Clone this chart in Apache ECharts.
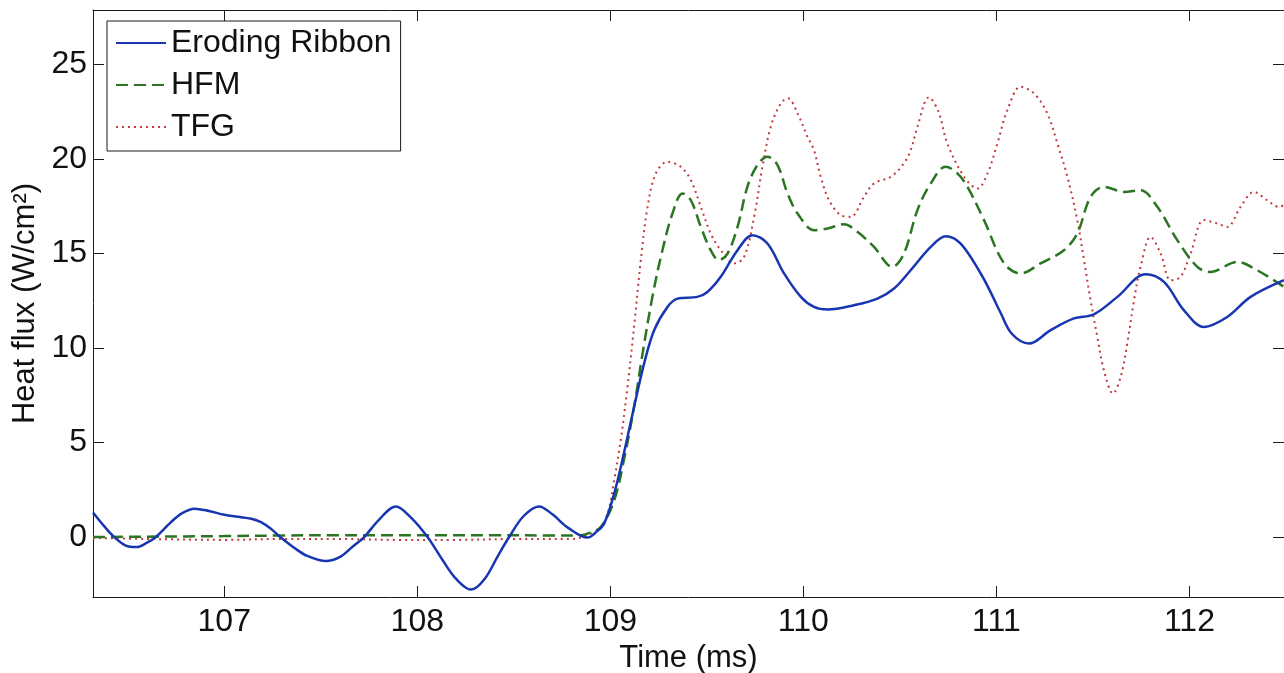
<!DOCTYPE html>
<html style="height: 100%">
<head>
	<meta charset="utf-8">
</head>
<body style="height: 100%; margin: 0; background: #fff">
<div id="container" style="width: 1284px; height: 673px"></div>
<script type="text/javascript" src="https://cdn.jsdelivr.net/npm/echarts@6/dist/echarts.min.js"></script>
<script type="text/javascript">
    // Eroding Ribbon (blue, solid)
    var ribbonTime = [106.32, 106.38, 106.43, 106.49, 106.543, 106.60, 106.646, 106.72, 106.78, 106.845, 106.92, 107.0, 107.07, 107.14, 107.19, 107.24, 107.29, 107.36, 107.43, 107.527, 107.60, 107.66, 107.725, 107.80, 107.889, 107.97, 108.053, 108.13, 108.20, 108.278, 108.35, 108.42, 108.476, 108.55, 108.631, 108.70, 108.78, 108.882, 108.93, 108.968, 109.02, 109.07, 109.123, 109.175, 109.227, 109.296, 109.348, 109.451, 109.503, 109.572, 109.659, 109.736, 109.814, 109.90, 109.987, 110.055, 110.125, 110.263, 110.384, 110.47, 110.556, 110.66, 110.737, 110.815, 110.918, 110.97, 111.02, 111.08, 111.169, 111.281, 111.402, 111.505, 111.627, 111.773, 111.868, 111.972, 112.075, 112.196, 112.317, 112.49];
    var ribbonFlux = [1.3, 0.55, 0.0, -0.45, -0.53, -0.3, 0.0, 0.75, 1.25, 1.5, 1.38, 1.18, 1.07, 0.97, 0.79, 0.45, 0.0, -0.55, -1.0, -1.27, -1.05, -0.55, 0.0, 0.9, 1.62, 1.0, 0.0, -1.2, -2.2, -2.78, -2.2, -0.95, 0.0, 1.1, 1.62, 1.2, 0.5, -0.03, 0.3, 0.71, 2.3, 4.41, 6.88, 9.17, 10.94, 12.17, 12.61, 12.7, 12.96, 13.76, 15.17, 15.96, 15.52, 13.94, 12.7, 12.17, 12.03, 12.26, 12.61, 13.14, 14.11, 15.34, 15.91, 15.52, 13.95, 12.95, 11.9, 10.75, 10.23, 10.94, 11.56, 11.78, 12.7, 13.9, 13.49, 11.99, 11.11, 11.64, 12.7, 13.58];

    // HFM (green, dashed)
    var hfmTime = [106.32, 106.6, 107.0, 107.3, 107.6, 108.0, 108.4, 108.7, 108.85, 108.882, 108.95, 109.02, 109.07, 109.123, 109.167, 109.218, 109.27, 109.322, 109.374, 109.417, 109.469, 109.52, 109.563, 109.607, 109.659, 109.71, 109.762, 109.814, 109.866, 109.918, 109.97, 110.055, 110.125, 110.211, 110.28, 110.366, 110.461, 110.521, 110.591, 110.66, 110.737, 110.798, 110.85, 110.936, 111.04, 111.126, 111.229, 111.35, 111.419, 111.488, 111.557, 111.661, 111.747, 111.834, 111.937, 112.041, 112.11, 112.248, 112.351, 112.49];
    var hfmFlux = [0.0, 0.02, 0.05, 0.08, 0.1, 0.1, 0.1, 0.08, 0.1, 0.18, 0.53, 1.94, 4.06, 6.88, 9.7, 12.7, 15.17, 17.11, 18.17, 17.81, 16.4, 15.17, 14.64, 14.99, 16.4, 18.52, 19.67, 20.11, 19.67, 18.17, 17.11, 16.23, 16.32, 16.54, 16.14, 15.34, 14.29, 14.99, 17.29, 18.7, 19.58, 19.23, 18.52, 16.76, 14.47, 13.94, 14.47, 15.17, 16.05, 17.99, 18.52, 18.25, 18.34, 17.46, 15.7, 14.29, 14.02, 14.55, 14.11, 13.23];

    // TFG (red, dotted)
    var tfgTime = [106.32, 106.6, 107.0, 107.3, 107.6, 107.9, 108.2, 108.5, 108.8, 108.882, 108.95, 108.99, 109.02, 109.054, 109.089, 109.123, 109.158, 109.193, 109.236, 109.296, 109.365, 109.417, 109.469, 109.52, 109.572, 109.641, 109.693, 109.745, 109.788, 109.831, 109.883, 109.92, 109.97, 110.02, 110.055, 110.09, 110.133, 110.194, 110.245, 110.314, 110.366, 110.453, 110.521, 110.556, 110.591, 110.65, 110.70, 110.746, 110.833, 110.902, 110.954, 111.005, 111.057, 111.126, 111.195, 111.264, 111.316, 111.368, 111.419, 111.454, 111.488, 111.523, 111.557, 111.604, 111.644, 111.678, 111.713, 111.747, 111.799, 111.851, 111.903, 111.954, 112.006, 112.075, 112.144, 112.196, 112.265, 112.334, 112.403, 112.463, 112.49];
    var tfgFlux = [-0.05, -0.1, -0.15, -0.1, -0.1, -0.15, -0.15, -0.1, -0.1, 0.1, 0.5, 1.4, 3.0, 5.12, 7.94, 11.11, 14.64, 17.46, 19.23, 19.84, 19.58, 18.87, 17.46, 16.05, 15.17, 14.47, 14.81, 16.93, 19.58, 21.69, 22.93, 23.2, 22.4, 21.2, 20.46, 19.05, 17.81, 17.02, 16.93, 17.99, 18.7, 19.05, 19.76, 20.46, 21.69, 23.25, 22.5, 20.81, 19.05, 18.43, 19.23, 20.81, 22.58, 23.81, 23.46, 22.4, 20.81, 19.05, 16.76, 14.64, 12.52, 10.58, 8.82, 7.59, 8.47, 10.23, 12.52, 14.29, 15.87, 14.99, 13.58, 13.76, 14.99, 16.76, 16.58, 16.4, 17.46, 18.25, 17.81, 17.46, 17.55];

    function pairs(xs, ys) {
        var out = [];
        for (var i = 0; i < xs.length; i++) {
            out.push([xs[i], ys[i]]);
        }
        return out;
    }

    var xMin = 106.32, xMax = 112.49;
    var yMin = -3.17, yMax = 27.87;
    var ink = '#1a1a1a';
    var font = 'Liberation Sans, Arial, Helvetica, sans-serif';

    var dom = document.getElementById("container");
    var myChart = echarts.init(dom, null, {renderer: 'canvas'});

    function boxAxis(position, isX, main) {
        return {
            type: 'value',
            position: position,
            min: isX ? xMin : yMin,
            max: isX ? xMax : yMax,
            splitNumber: isX ? 6 : 5,
            splitLine: {show: false},
            axisLine: {show: true, onZero: false, lineStyle: {color: ink, width: 1}},
            axisTick: {show: true, inside: true, length: 11, lineStyle: {color: ink, width: 1}},
            axisLabel: {
                show: main,
                showMinLabel: false,
                showMaxLabel: false,
                color: '#111',
                fontFamily: font,
                fontSize: 32,
                margin: isX ? 9 : 6
            }
        };
    }

    var xMain = boxAxis('bottom', true, true);
    xMain.name = 'Time (ms)';
    xMain.nameLocation = 'middle';
    xMain.nameGap = 41;
    xMain.nameTextStyle = {color: '#111', fontFamily: font, fontSize: 31};

    var yMain = boxAxis('left', false, true);
    yMain.name = 'Heat flux (W/cm²)';
    yMain.nameLocation = 'middle';
    yMain.nameGap = 51;
    yMain.nameTextStyle = {color: '#111', fontFamily: font, fontSize: 31};

    var option = {
        backgroundColor: '#ffffff',
        animation: false,
        grid: {
            left: 93,
            right: 0,
            top: 10,
            bottom: 76,
            outerBoundsMode: 'none'
        },
        legend: {
            orient: 'vertical',
            left: 107,
            top: 21,
            padding: [6, 9, 8, 8],
            itemWidth: 50,
            itemHeight: 14,
            itemGap: 10,
            backgroundColor: '#ffffff',
            borderColor: ink,
            borderWidth: 1,
            itemStyle: {opacity: 0},
            textStyle: {color: '#111', fontFamily: font, fontSize: 32},
            data: ['Eroding Ribbon', 'HFM', 'TFG']
        },
        xAxis: [xMain, boxAxis('top', true, false)],
        yAxis: [yMain, boxAxis('right', false, false)],
        series: [
            {
                name: 'Eroding Ribbon',
                type: 'line',
                symbol: 'none',
                smooth: 0.35,
                clip: true,
                z: 3,
                color: '#1836b2',
                lineStyle: {color: '#1836b2', width: 2.5, type: 'solid'},
                data: pairs(ribbonTime, ribbonFlux)
            },
            {
                name: 'HFM',
                type: 'line',
                symbol: 'none',
                smooth: 0.35,
                clip: true,
                z: 2,
                color: '#2a7422',
                lineStyle: {color: '#2a7422', width: 2.5, type: [12, 6]},
                data: pairs(hfmTime, hfmFlux)
            },
            {
                name: 'TFG',
                type: 'line',
                symbol: 'none',
                smooth: 0.35,
                clip: true,
                z: 1,
                color: '#c23a3a',
                lineStyle: {color: '#c23a3a', width: 2, type: [2, 4]},
                data: pairs(tfgTime, tfgFlux)
            }
        ]
    };

    myChart.setOption(option);
</script>
</body>
</html>
